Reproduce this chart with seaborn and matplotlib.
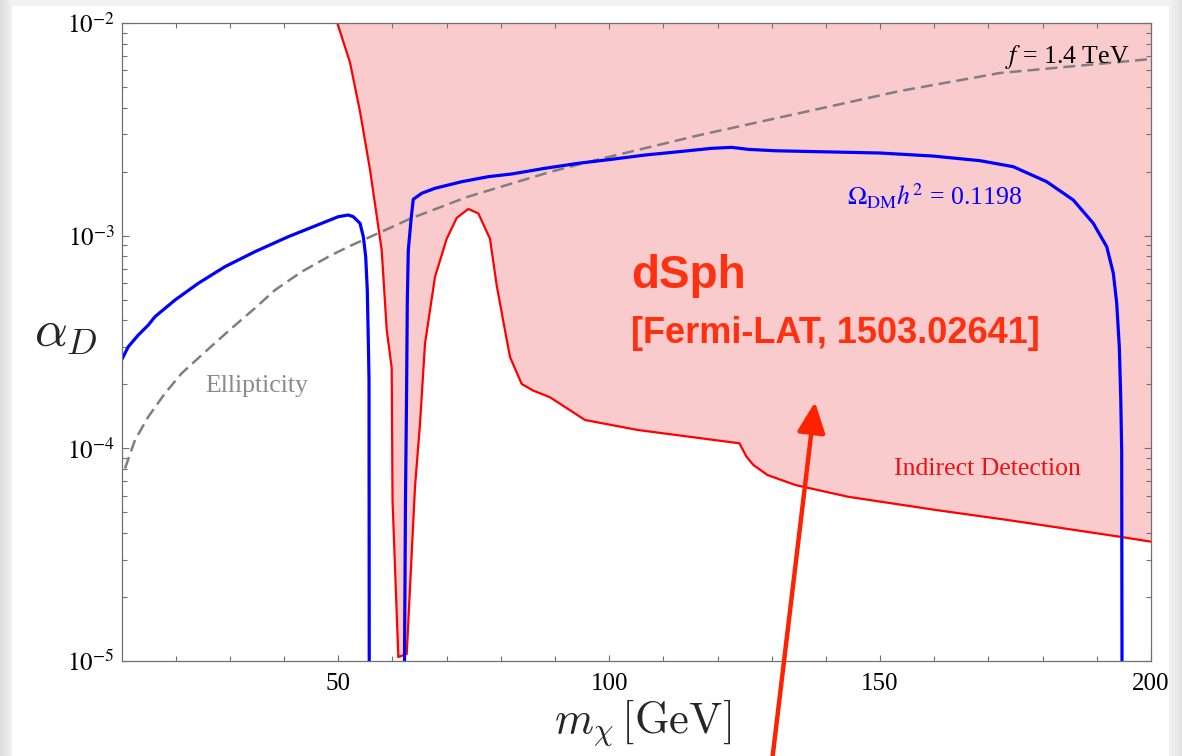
import numpy as np
import matplotlib
matplotlib.use("Agg")
import matplotlib.pyplot as plt
import seaborn as sns
from matplotlib.ticker import FixedLocator, FixedFormatter, NullFormatter, LogLocator

# ---------------- data ----------------
# relic density curve Omega_DM h^2 = 0.1198, left branch
blue1_x = [10.0, 11.25, 13.10, 14.95, 16.18, 19.87, 24.17, 29.10, 34.64, 40.78,
           46.95, 50.01, 51.86, 52.78, 54.02, 54.63, 55.07, 55.36, 55.55, 55.68, 55.72]
blue1_y = [2.60e-4, 3.005e-4, 3.41e-4, 3.80e-4, 4.16e-4, 4.98e-4, 5.97e-4, 7.15e-4,
           8.41e-4, 9.89e-4, 1.143e-3, 1.228e-3, 1.251e-3, 1.228e-3, 1.143e-3, 9.89e-4,
           7.96e-4, 5.55e-4, 3.23e-4, 2.096e-4, 1.0e-5]
# right branch
blue2_x = [62.23, 62.41, 62.60, 62.75, 62.93, 63.52, 63.85, 65.40, 67.86, 72.79,
           77.70, 82.01, 88.16, 94.31, 100.47, 106.62, 112.76, 118.92, 122.58, 125.68,
           130.61, 149.99, 159.77, 168.44, 174.59, 180.75, 185.66, 189.35, 191.83,
           193.05, 193.67, 194.15, 194.41, 194.59, 194.65]
blue2_y = [1.0e-5, 5.71e-5, 1.688e-4, 4.98e-4, 8.56e-4, 1.251e-3, 1.483e-3, 1.582e-3,
           1.670e-3, 1.794e-3, 1.894e-3, 1.950e-3, 2.074e-3, 2.189e-3, 2.286e-3,
           2.394e-3, 2.481e-3, 2.574e-3, 2.602e-3, 2.546e-3, 2.508e-3, 2.447e-3,
           2.368e-3, 2.252e-3, 2.110e-3, 1.794e-3, 1.471e-3, 1.143e-3, 8.87e-4,
           6.65e-4, 4.81e-4, 3.005e-4, 1.749e-4, 9.82e-5, 1.0e-5]
# indirect detection (dSph, Fermi-LAT) bound
red_x = [49.83, 52.17, 54.02, 55.86, 58.02, 58.95, 59.87, 60.02, 61.09, 62.64, 64.17,
         65.09, 66.01, 67.86, 70.02, 71.86, 74.01, 75.85, 78.01, 79.25, 80.47, 81.70,
         83.86, 86.0, 89.09, 95.55, 105.27, 124.04, 125.34, 126.62, 129.22, 134.4,
         144.09, 160.29, 173.62, 194.24, 200.0]
red_y = [1.0e-2, 6.52e-3, 3.833e-3, 2.045e-3, 8.56e-4, 3.60e-4, 2.387e-4, 5.71e-5,
         1.044e-5, 1.079e-5, 6.6e-5, 1.302e-4, 3.103e-4, 6.405e-4, 9.667e-4, 1.212e-3,
         1.335e-3, 1.273e-3, 9.667e-4, 5.82e-4, 3.95e-4, 2.689e-4, 2.007e-4, 1.868e-4,
         1.738e-4, 1.359e-4, 1.22e-4, 1.056e-4, 9.14e-5, 8.35e-5, 7.49e-5, 6.72e-5,
         5.92e-5, 5.13e-5, 4.60e-5, 3.84e-5, 3.64e-5]
# ellipticity bound, f = 1.4 TeV
ell_x = [10.65, 12.49, 14.95, 18.03, 21.11, 25.41, 30.58, 34.45, 38.33, 43.26, 48.17,
         51.86, 58.02, 63.25, 73.77, 89.09, 98.31, 116.77, 135.23, 153.69, 172.14, 200.0]
ell_y = [8.05e-5, 1.094e-4, 1.409e-4, 1.815e-4, 2.254e-4, 2.838e-4, 3.72e-4, 4.52e-4,
         5.55e-4, 6.77e-4, 7.96e-4, 8.87e-4, 1.044e-3, 1.201e-3, 1.52e-3, 1.993e-3,
         2.293e-3, 2.975e-3, 3.774e-3, 4.79e-3, 5.82e-3, 6.77e-3]

x_major = [50, 100, 150, 200]
x_minor = [20, 30, 40, 60, 70, 80, 90, 110, 120, 130, 140, 160, 170, 180, 190]
y_major = [1e-5, 1e-4, 1e-3, 1e-2]
y_labels = [r"$10^{-5}$", r"$10^{-4}$", r"$10^{-3}$", r"$10^{-2}$"]

# ---------------- style ----------------
sns.set_style("white")
plt.rcParams["font.family"] = ["Liberation Serif", "DejaVu Serif"]
plt.rcParams["mathtext.fontset"] = "stix"

W, H = 1182, 756
fig = plt.figure(figsize=(W / 100, H / 100), dpi=100)

# screenshot-like grey border shadow
bg = fig.add_axes([0, 0, 1, 1], zorder=-10)
xx = np.arange(W, dtype=float)
yy = np.arange(H, dtype=float)
lft = np.where(xx < 12, 0.87 + 0.08 * xx / 12, 1.0)
rgt = np.where(xx > 1168, 0.96 - 0.08 * (xx - 1168) / 14, 1.0)
col = np.minimum(lft, rgt)
top = np.where(yy < 6, 0.95, 1.0)
img = np.minimum(col[None, :], top[:, None])
bg.imshow(np.dstack([img, img, img]), aspect="auto", extent=[0, 1, 0, 1],
          vmin=0, vmax=1, interpolation="nearest")
bg.set_axis_off()

ax = fig.add_axes([121.5 / W, (H - 661) / H, 1029.5 / W, 638 / H])
ax.set_facecolor("white")
ax.set_axisbelow(False)
ax.set_yscale("log")
ax.set_xlim(10, 200)
ax.set_ylim(1e-5, 1e-2)

ax.fill_between(red_x, red_y, 1e-2, color="#f9cbcd", lw=0, zorder=1)
sns.lineplot(x=red_x, y=red_y, ax=ax, color="#ff0000", lw=1.6, sort=False,
             estimator=None, zorder=3)
sns.lineplot(x=ell_x, y=ell_y, ax=ax, color="#7f7f7f", lw=1.8, sort=False,
             estimator=None, linestyle=(0, (4.8, 2.4)), zorder=4)
sns.lineplot(x=blue1_x, y=blue1_y, ax=ax, color="#0000ff", lw=2.3, sort=False,
             estimator=None, zorder=5)
sns.lineplot(x=blue2_x, y=blue2_y, ax=ax, color="#0000ff", lw=2.3, sort=False,
             estimator=None, zorder=5)

# ticks
ax.xaxis.set_major_locator(FixedLocator(x_major))
ax.xaxis.set_minor_locator(FixedLocator(x_minor))
ax.xaxis.set_minor_formatter(NullFormatter())
ax.yaxis.set_major_locator(FixedLocator(y_major))
ax.yaxis.set_major_formatter(FixedFormatter(y_labels))
ax.yaxis.set_minor_locator(LogLocator(base=10, subs=np.arange(2, 10)))
ax.yaxis.set_minor_formatter(NullFormatter())
ax.tick_params(axis="both", which="both", direction="in", top=True, right=True,
               bottom=True, left=True, color="#707070", labelcolor="black",
               labelsize=18, width=0.8)
ax.tick_params(axis="x", which="major", length=4.2, pad=9)
ax.tick_params(axis="x", which="minor", length=3.8)
ax.tick_params(axis="y", which="major", length=5.2, pad=5)
ax.tick_params(axis="y", which="minor", length=3.6)
for s in ax.spines.values():
    s.set_color("#707070")
    s.set_linewidth(0.9)
    s.set_visible(True)
    s.set_zorder(8)

# axis labels
ax.set_ylabel(r"$\alpha_D$", rotation=0, fontsize=37, math_fontfamily="cm",
              va="center", ha="center")
ax.yaxis.set_label_coords(-0.054, 0.512)
ax.set_xlabel(r"$m_\chi\,[\mathrm{GeV}]$", fontsize=32, math_fontfamily="cm",
              va="center")
ax.xaxis.set_label_coords(0.5056, -0.096)

# in-plot labels
ax.text(0.8582, 0.9373, r"$f$ = 1.4 TeV", transform=ax.transAxes, fontsize=18.5,
        color="black", va="baseline", ha="left", zorder=6)
ax.text(0.7047, 0.7147, r"$\Omega_{\rm DM}h^2$ = 0.1198", transform=ax.transAxes,
        fontsize=18.5, color="#0000ff", va="baseline", ha="left", zorder=6)
ax.text(0.0811, 0.4216, "Ellipticity", transform=ax.transAxes, fontsize=18.5,
        color="#8a8a8a", va="baseline", ha="left", zorder=6)
ax.text(0.7503, 0.2915, "Indirect Detection", transform=ax.transAxes, fontsize=18.5,
        color="#ee1111", va="baseline", ha="left", zorder=6)
ax.text(0.4949, 0.5846, "dSph", transform=ax.transAxes, fontsize=33,
        family="Liberation Sans", weight="bold", color="#ff3010", va="baseline",
        ha="left", zorder=6)
ax.text(0.4949, 0.498, "[Fermi-LAT, 1503.02641]", transform=ax.transAxes,
        fontsize=26, family="Liberation Sans", weight="bold", color="#ff3010",
        va="baseline", ha="left", zorder=6)

# big red arrow pointing at the region
ax.annotate("", xy=(815, H - 402), xycoords="figure pixels",
            xytext=(771, -14), textcoords="figure pixels",
            arrowprops=dict(arrowstyle="-|>,head_length=1.85,head_width=0.85",
                            mutation_scale=10, lw=3.2, color="#ff2200",
                            shrinkA=0, shrinkB=0),
            annotation_clip=False, zorder=10)

fig.savefig("out.png", dpi=100)
